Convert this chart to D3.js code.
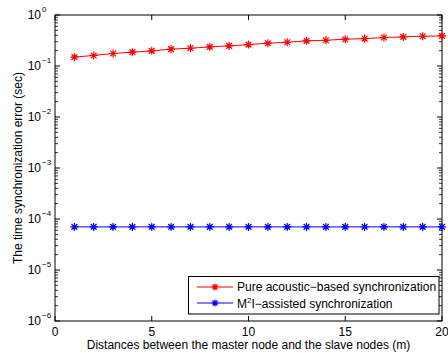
<!DOCTYPE html>
<html><head><meta charset="utf-8">
<script src="https://cdn.jsdelivr.net/npm/d3@7"></script>
<style>body{margin:0;background:#fff}svg{display:block}text{font-family:"Liberation Sans",Arial,sans-serif}</style>
</head><body><svg id="c" width="448" height="353"></svg>
<script>
const distances = [1,2,3,4,5,6,7,8,9,10,11,12,13,14,15,16,17,18,19,20];
const pureAcoustic = [0.149,0.161,0.176,0.187,0.198,0.214,0.223,0.237,0.248,0.263,0.280,0.292,0.311,0.320,0.335,0.345,0.361,0.372,0.383,0.389];
const m2iAssisted = [7e-5,7e-5,7e-5,7e-5,7e-5,7e-5,7e-5,7e-5,7e-5,7e-5,7e-5,7e-5,7e-5,7e-5,7e-5,7e-5,7e-5,7e-5,7e-5,7e-5];
const xTicks = [0,5,10,15,20];
const yExponents = [0,-1,-2,-3,-4,-5,-6];
const seriesNames = ["Pure acoustic\u2212based synchronization","M\u00b2I\u2212assisted synchronization"];
const seriesColors = ["#ff0000","#0000ff"];

const svg = d3.select("#c");
const L=55, R=442, T=15, B=321;
const x = d3.scaleLinear().domain([0,20]).range([L,R]);
const y = d3.scaleLog().domain([1e-6,1]).range([B,T]);

const minors=[];
for(let e=-6;e<0;e++) for(let m=2;m<=9;m++) minors.push(m*Math.pow(10,e));
const g = svg.append("g");
minors.forEach(v=>{
  g.append("line").attr("x1",L).attr("x2",L+3).attr("y1",y(v)).attr("y2",y(v)).attr("stroke","#000").attr("stroke-width",0.8);
  g.append("line").attr("x1",R).attr("x2",R-3).attr("y1",y(v)).attr("y2",y(v)).attr("stroke","#000").attr("stroke-width",0.8);
});
yExponents.forEach(e=>{
  const v=Math.pow(10,e);
  g.append("line").attr("x1",L).attr("x2",L+5).attr("y1",y(v)).attr("y2",y(v)).attr("stroke","#000");
  g.append("line").attr("x1",R).attr("x2",R-5).attr("y1",y(v)).attr("y2",y(v)).attr("stroke","#000");
  g.append("text").attr("x",L-14).attr("y",y(v)+4).attr("text-anchor","end").attr("font-size",12).attr("fill","#000").text("10");
  g.append("text").attr("x",L-13).attr("y",y(v)-3).attr("font-size",8).attr("fill","#000").text(e===0?"0":"\u2212"+(-e));
});
xTicks.forEach(v=>{
  g.append("line").attr("x1",x(v)).attr("x2",x(v)).attr("y1",B).attr("y2",B-5).attr("stroke","#000");
  g.append("line").attr("x1",x(v)).attr("x2",x(v)).attr("y1",T).attr("y2",T+5).attr("stroke","#000");
  g.append("text").attr("x",x(v)).attr("y",B+15).attr("text-anchor","middle").attr("font-size",12).attr("fill","#000").text(v);
});
g.append("rect").attr("x",L).attr("y",T).attr("width",R-L).attr("height",B-T).attr("fill","none").attr("stroke","#000").attr("stroke-width",1);

function star(sel,cx,cy,col,s){
  const a=s, d=s*0.72;
  const p=`M${cx-a},${cy}L${cx+a},${cy}M${cx},${cy-a}L${cx},${cy+a}M${cx-d},${cy-d}L${cx+d},${cy+d}M${cx-d},${cy+d}L${cx+d},${cy-d}`;
  sel.append("path").attr("d",p).attr("stroke",col).attr("stroke-width",1.2).attr("fill","none");
}
const data=[pureAcoustic,m2iAssisted];
data.forEach((vals,i)=>{
  const pts=distances.map((d,j)=>[x(d),y(vals[j])]);
  svg.append("path").attr("d",d3.line()(pts)).attr("stroke",seriesColors[i]).attr("stroke-width",1).attr("fill","none");
  pts.forEach(p=>star(svg,p[0],p[1],seriesColors[i],4));
});

const lg=svg.append("g");
lg.append("rect").attr("x",188.5).attr("y",276.5).attr("width",250.5).attr("height",37.5).attr("fill","#fff").attr("stroke","#000");
[287,303].forEach((yy,i)=>{
  lg.append("line").attr("x1",197).attr("x2",233).attr("y1",yy).attr("y2",yy).attr("stroke",seriesColors[i]);
  star(lg,215,yy,seriesColors[i],3.5);
});
lg.append("text").attr("x",237).attr("y",291).attr("font-size",12).text(seriesNames[0]);
const t2=lg.append("text").attr("x",237).attr("y",308).attr("font-size",12);
t2.append("tspan").text("M");
t2.append("tspan").attr("dy",-5).attr("font-size",8).text("2");
t2.append("tspan").attr("dy",5).text("I\u2212assisted synchronization");

svg.append("text").attr("x",(L+R)/2).attr("y",349).attr("text-anchor","middle").attr("font-size",12).text("Distances between the master node and the slave nodes (m)");
svg.append("text").attr("transform",`translate(22,${(T+B)/2}) rotate(-90)`).attr("text-anchor","middle").attr("font-size",12).text("The time synchronization error (sec)");
</script></body></html>
